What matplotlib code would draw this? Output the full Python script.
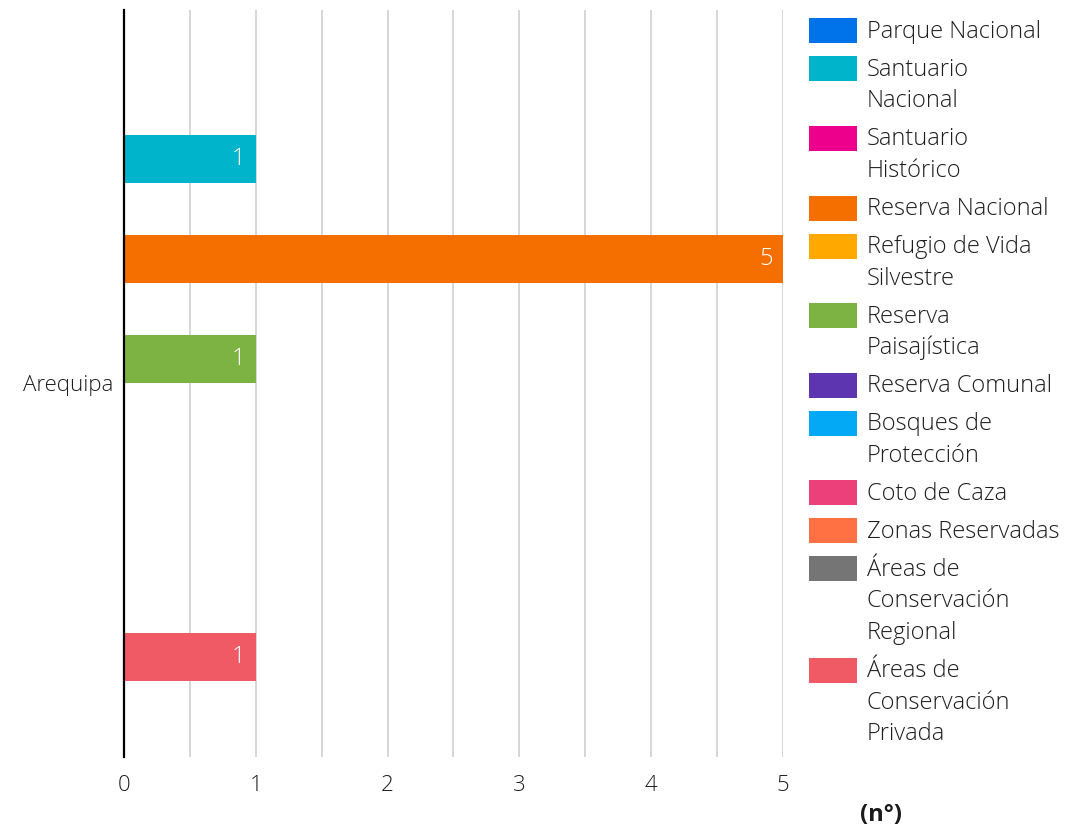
import matplotlib
matplotlib.use("Agg")
import matplotlib.pyplot as plt
from matplotlib.patches import Rectangle

plt.rcParams['font.family'] = ['Open Sans', 'DejaVu Sans']

category = "Arequipa"
series_names = ["Parque Nacional", "Santuario Nacional", "Santuario Histórico",
                "Reserva Nacional", "Refugio de Vida Silvestre", "Reserva Paisajística",
                "Reserva Comunal", "Bosques de Protección", "Coto de Caza",
                "Zonas Reservadas", "Áreas de Conservación Regional",
                "Áreas de Conservación Privada"]
legend_labels = ["Parque Nacional", "Santuario\nNacional", "Santuario\nHistórico",
                 "Reserva Nacional", "Refugio de Vida\nSilvestre", "Reserva\nPaisajística",
                 "Reserva Comunal", "Bosques de\nProtección", "Coto de Caza",
                 "Zonas Reservadas", "Áreas de\nConservación\nRegional",
                 "Áreas de\nConservación\nPrivada"]
values = [0, 1, 0, 5, 0, 1, 0, 0, 0, 0, 0, 1]
colors = ["#0073EA", "#00B5CB", "#EC008C", "#F56F00", "#FFA800", "#7CB342",
          "#5E35B1", "#03A9F4", "#EC407A", "#FF7043", "#757575", "#F05A64"]
x_ticks = [0, 1, 2, 3, 4, 5]

W, H = 1079, 835
FS_TICK = 16
FS_LEG = 17
TXT = '#1e1e1e'
fig = plt.figure(figsize=(W / 100, H / 100), dpi=100)
ax = fig.add_axes([124 / W, 1 - 757 / H, (783 - 124) / W, (757 - 10) / H])

n = len(values)
pos = list(range(n))
ax.barh(pos, values, height=0.96, color=colors, zorder=3)
for p, v in zip(pos, values):
    if v > 0:
        ax.text(v - 0.08, p, str(v), ha='right', va='center', color='white',
                fontsize=FS_TICK + 1, fontweight='light', zorder=4)

ax.set_ylim(n - 1 + 2.0, -2.0)
ax.set_xlim(0, 5)
ax.set_xticks(x_ticks)
ax.set_xticklabels([str(t) for t in x_ticks], fontsize=FS_TICK, color=TXT, fontweight='light')
ax.set_xticks([t + 0.5 for t in x_ticks[:-1]], minor=True)
ax.tick_params(axis='x', length=0, pad=13, which='both')
ax.grid(axis='x', which='both', color='#cccccc', linewidth=1.1, zorder=0)
ax.set_yticks([(n - 1) / 2])
ax.set_yticklabels([category], fontsize=FS_TICK, color=TXT, fontweight='light')
ax.tick_params(axis='y', length=0, pad=8)
for s in ['top', 'right', 'bottom']:
    ax.spines[s].set_visible(False)
ax.spines['left'].set_color('black')
ax.spines['left'].set_linewidth(1.6)
ax.spines['left'].set_zorder(5)

# legend (manual, handles aligned with the first line of each label)
y = 30.8
line_h = 31.6
for lab, c in zip(legend_labels, colors):
    fig.patches.append(Rectangle((809 / W, 1 - (y + 12.5) / H), 48 / W, 25 / H,
                                 transform=fig.transFigure, facecolor=c,
                                 edgecolor='none'))
    lines = lab.split("\n")
    for i, ln in enumerate(lines):
        fig.text(867 / W, 1 - (y + i * line_h + 1) / H, ln, ha='left', va='center',
                 fontsize=FS_LEG, color=TXT, fontweight='light')
    y += 38 + (len(lines) - 1) * line_h

fig.text(881 / W, 1 - 815 / H, "(n°)", ha='center', va='center', fontsize=17,
         fontweight='bold', color='#1a1a1a')

fig.savefig("out.png", dpi=100)
